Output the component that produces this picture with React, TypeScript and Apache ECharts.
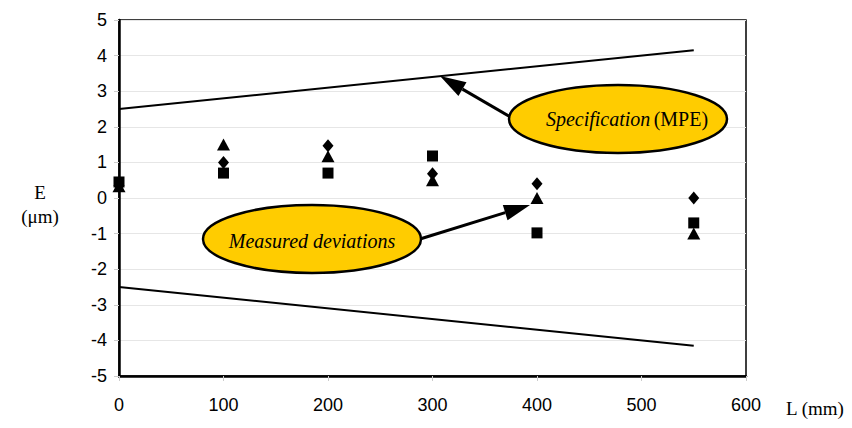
import React, { useEffect, useRef } from "react";
import * as echarts from "echarts";

const lengths = [0, 100, 200, 300, 400, 550];
const squareVals = [0.45, 0.7, 0.7, 1.18, -0.98, -0.7];
const diamondVals = [0.35, 1.0, 1.47, 0.68, 0.4, 0.0];
const triangleVals = [0.33, 1.5, 1.17, 0.5, 0.0, -1.0];
const specUpper = [[0, 2.5], [550, 4.15]];
const specLower = [[0, -2.5], [550, -4.15]];

const SERIF = "Liberation Serif";
const SANS = "Liberation Sans";

function arrow(x1: number, y1: number, x2: number, y2: number) {
  const ang = Math.atan2(y2 - y1, x2 - x1);
  const len = 26;
  const half = 8;
  const bx = x2 - len * Math.cos(ang);
  const by = y2 - len * Math.sin(ang);
  const px = -Math.sin(ang) * half;
  const py = Math.cos(ang) * half;
  return [
    {
      type: "line",
      shape: { x1, y1, x2: bx, y2: by },
      style: { stroke: "#000", lineWidth: 3 },
      z: 9,
    },
    {
      type: "polygon",
      shape: { points: [[x2, y2], [bx + px, by + py], [bx - px, by - py]] },
      style: { fill: "#000" },
      z: 9,
    },
  ];
}

export default function App() {
  const ref = useRef<HTMLDivElement>(null);
  useEffect(() => {
    const chart = echarts.init(ref.current!, null, { renderer: "svg" });
    const sym = (name: string, vals: number[], size: number | number[]) => ({
      type: "scatter",
      name,
      symbol: name,
      symbolSize: size,
      itemStyle: { color: "#000", opacity: 1 },
      data: lengths.map((l, i) => [l, vals[i]]),
      z: 3,
    });
    chart.setOption({
      animation: false,
      backgroundColor: "#fff",
      grid: {
        left: 119,
        right: 106,
        top: 20,
        bottom: 52,
        show: true,
        borderColor: "#000",
        borderWidth: 1.5,
      },
      xAxis: {
        type: "value",
        min: 0,
        max: 600,
        interval: 100,
        axisLine: { show: true, onZero: false, lineStyle: { color: "#000", width: 2.5 } },
        axisTick: { show: true, length: 5, lineStyle: { color: "#ccc" } },
        splitLine: { show: false },
        axisLabel: {
          color: "#000",
          fontSize: 18,
          fontFamily: SANS,
          margin: 20,
        },
      },
      yAxis: {
        type: "value",
        min: -5,
        max: 5,
        interval: 1,
        axisLine: { show: true, onZero: false, lineStyle: { color: "#000", width: 2.5 } },
        axisTick: { show: true, length: 5, lineStyle: { color: "#ccc" } },
        splitLine: { show: true, lineStyle: { color: "#e6e6e6", width: 1 } },
        axisLabel: {
          color: "#000",
          fontSize: 18,
          fontFamily: SANS,
          margin: 12,
        },
      },
      series: [
        {
          type: "line",
          data: specUpper,
          symbol: "none",
          lineStyle: { color: "#000", width: 2 },
        },
        {
          type: "line",
          data: specLower,
          symbol: "none",
          lineStyle: { color: "#000", width: 2 },
        },
        sym("rect", squareVals, 11),
        sym("diamond", diamondVals, [11, 13]),
        sym("triangle", triangleVals, [13, 12]),
      ],
      graphic: [
        {
          type: "text",
          x: 40,
          y: 192,
          style: {
            text: "E",
            align: "center",
            verticalAlign: "middle",
            fontSize: 19,
            fontFamily: SERIF,
            fill: "#000",
          },
        },
        {
          type: "text",
          x: 40,
          y: 216,
          style: {
            text: "(μm)",
            align: "center",
            verticalAlign: "middle",
            fontSize: 19,
            fontFamily: SERIF,
            fill: "#000",
          },
        },
        {
          type: "text",
          x: 786,
          y: 408,
          style: {
            text: "L (mm)",
            verticalAlign: "middle",
            fontSize: 19,
            fontFamily: SERIF,
            fill: "#000",
          },
        },
        ...arrow(512, 118, 440, 76),
        ...arrow(420, 239, 530, 205),
        {
          type: "ellipse",
          shape: { cx: 618, cy: 119, rx: 109, ry: 34 },
          style: { fill: "#FFCC00", stroke: "#000", lineWidth: 2.5 },
          z: 10,
        },
        {
          type: "text",
          x: 627,
          y: 119,
          z: 11,
          style: {
            text: "{i|Specification} {n|(MPE)}",
            align: "center",
            verticalAlign: "middle",
            fill: "#000",
            rich: {
              i: {
                fontSize: 20,
                fontStyle: "italic",
                fontFamily: SERIF,
                fill: "#000",
              },
              n: {
                fontSize: 20,
                fontFamily: SERIF,
                fill: "#000",
              },
            },
          },
        },
        {
          type: "ellipse",
          shape: { cx: 312, cy: 239, rx: 109, ry: 34 },
          style: { fill: "#FFCC00", stroke: "#000", lineWidth: 2.5 },
          z: 10,
        },
        {
          type: "text",
          x: 312,
          y: 241,
          z: 11,
          style: {
            text: "Measured deviations",
            align: "center",
            verticalAlign: "middle",
            fontSize: 20,
            fontStyle: "italic",
            fontFamily: SERIF,
            fill: "#000",
          },
        },
      ],
    });
    return () => chart.dispose();
  }, []);
  return <div ref={ref} style={{ width: 852, height: 428, position: "absolute", left: 0, top: 0 }} />;
}
